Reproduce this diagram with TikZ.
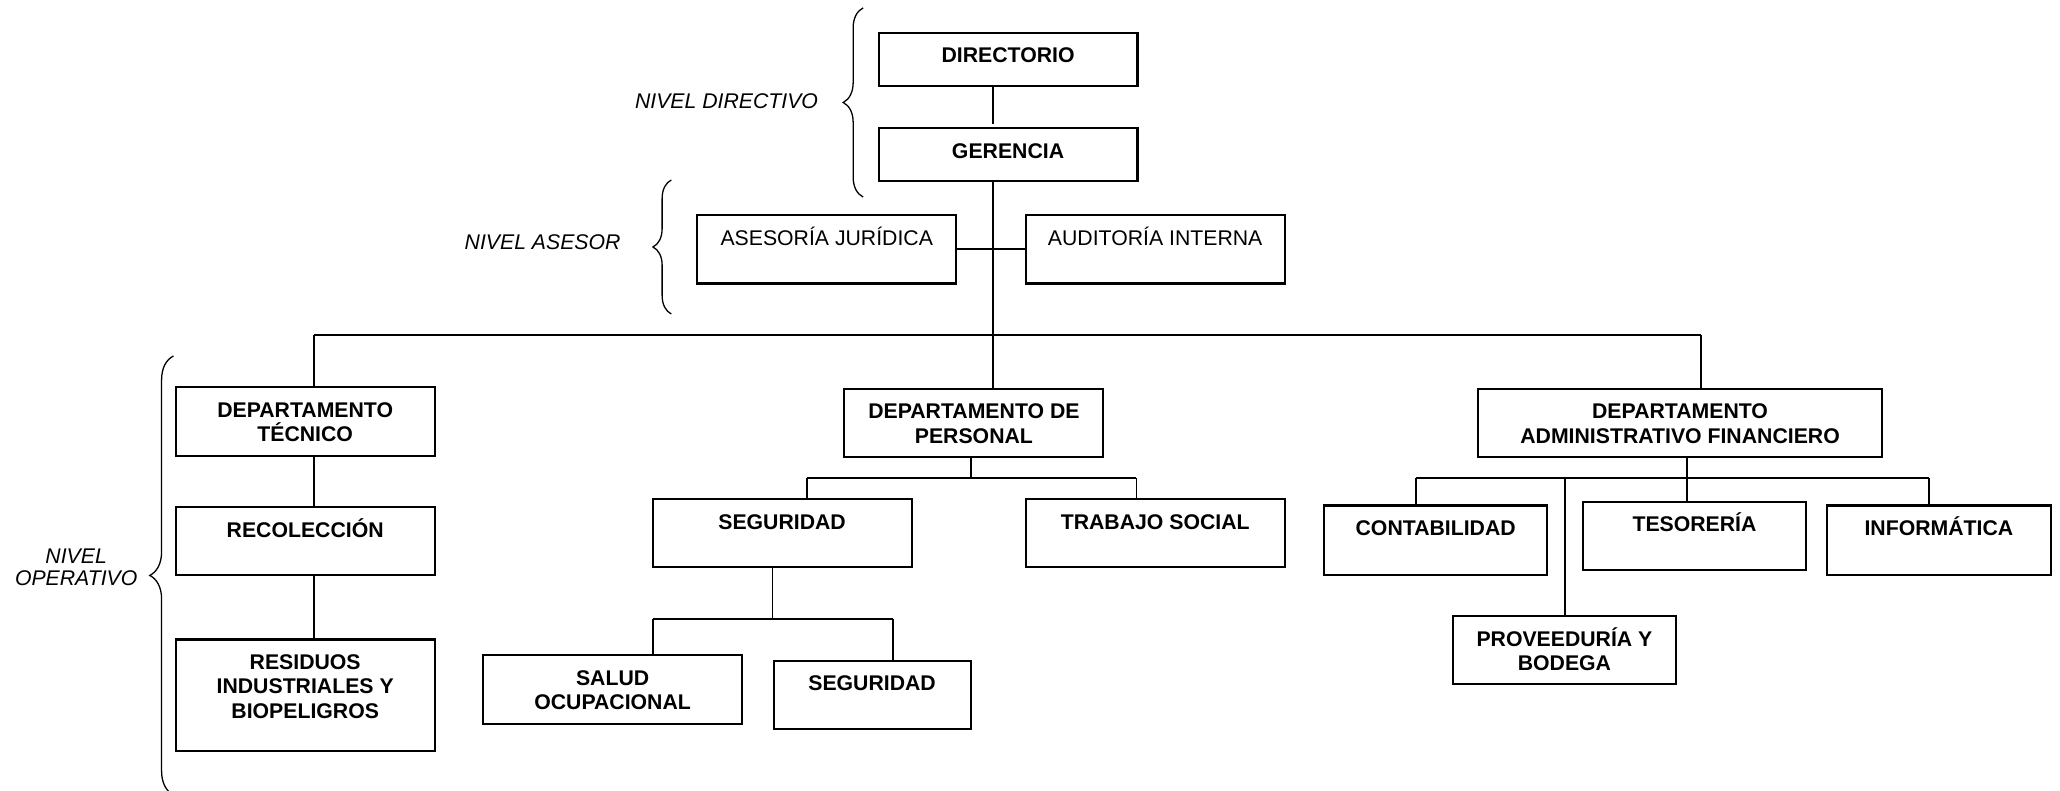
\documentclass[tikz,border=0pt]{standalone}
\usepackage{fontspec}
\setmainfont{Liberation Sans}
\usetikzlibrary{positioning,decorations.pathreplacing}

\begin{document}
\begin{tikzpicture}[x=0.025cm,y=-0.025cm,
  cargo/.style={draw,line width=1.1pt,anchor=north west,inner sep=0pt,
    minimum width=4.925cm,minimum height=1.3cm},
  lbl/.style={anchor=base,inner sep=0pt,align=center,
    font=\bfseries\fontsize{11.5}{13.1}\selectfont},
  boxtext/.style={label={[lbl,yshift=-0.595cm]north:#1}},
  boxtwo/.style={label={[lbl,yshift=-0.595cm-13.1pt]north:#1}},
  boxthree/.style={label={[lbl,yshift=-0.595cm-26.2pt]north:#1}},
  thintext/.style={label={[lbl,yshift=-0.595cm,font=\fontsize{11.5}{13.1}\selectfont]north:#1}},
  conn/.style={line width=1pt},
  nivel/.style={font=\itshape\fontsize{11.5}{12.1}\selectfont,align=center},
  curly/.style={decorate,decoration={brace,amplitude=#1},line width=0.7pt}]
  \useasboundingbox (0,0) rectangle (1568,602);

  %nivel directivo
  \node[cargo,minimum height=1.025cm,boxtext=DIRECTORIO] (dir) at (668,24) {};
  \node[cargo,minimum height=1cm,boxtext=GERENCIA] (ger) at (668,97) {};
  %nivel asesor
  \node[cargo,thintext=ASESORÍA JURÍDICA] (ase) at (530,163) {};
  \node[cargo,thintext=AUDITORÍA INTERNA] (aud) at (780,163) {};
  %departamentos
  \node[cargo,boxtwo={DEPARTAMENTO\\TÉCNICO}] (tec) at (133,294) {};
  \node[cargo,boxtext=RECOLECCIÓN] (rec) at (133,385) {};
  \node[cargo,minimum height=2.125cm,boxthree={RESIDUOS\\INDUSTRIALES Y\\BIOPELIGROS}] (res) at (133,486) {};
  \node[cargo,boxtwo={DEPARTAMENTO DE\\PERSONAL}] (per) at (642,295) {};
  \node[cargo,boxtext=SEGURIDAD] (seg) at (496,379) {};
  \node[cargo,boxtext=TRABAJO SOCIAL] (tra) at (780,379) {};
  \node[cargo,boxtwo={SALUD\\OCUPACIONAL}] (sal) at (367,498) {};
  \node[cargo,minimum width=3.75cm,boxtext=SEGURIDAD] (seg2) at (588,502) {};
  \node[cargo,minimum width=7.7cm,boxtwo={DEPARTAMENTO\\ADMINISTRATIVO FINANCIERO}] (adm) at (1124,295) {};
  \node[cargo,minimum width=4.25cm,minimum height=1.325cm,boxtext=CONTABILIDAD] (con) at (1007,384) {};
  \node[cargo,minimum width=4.25cm,boxtext=TESORERÍA] (tes) at (1204,381) {};
  \node[cargo,minimum width=4.25cm,minimum height=1.325cm,boxtext=INFORMÁTICA] (inf) at (1390,384) {};
  \node[cargo,minimum width=4.25cm,boxtwo={PROVEEDURÍA Y\\BODEGA}] (pro) at (1105,468) {};

  %joints
  \coordinate (t) at (756,255);
  \coordinate (bl) at (239,255);
  \coordinate (br) at (1295,255);
  \coordinate (p) at (739,364);
  \coordinate (pl) at (614,364);
  \coordinate (pr) at (865,364);
  \coordinate (s) at (588,471);
  \coordinate (sl) at (497,471);
  \coordinate (sr) at (680,471);
  \coordinate (a) at (1284,364);
  \coordinate (al) at (1078,364);
  \coordinate (am) at (1191,364);
  \coordinate (ar) at (1468,364);

  %lines
  \draw[conn,shorten >=1.8pt] (dir.south -| t) -- (ger.north -| t);
  \draw[conn] (ger.south -| t) -- (t);
  \draw[conn] (ase.east) -- (aud.west);
  \draw[conn] (bl) -- (br);
  \draw[conn] (bl) -- (tec.north -| bl);
  \draw[conn] (tec.south -| bl) -- (rec.north -| bl);
  \draw[conn] (rec.south -| bl) -- (res.north -| bl);
  \draw[conn] (t) -- (per.north -| t);
  \draw[conn] (per.south -| p) -- (p);
  \draw[conn] (pl) -- (pr);
  \draw[conn] (pl) -- (seg.north -| pl);
  \draw[conn] (pr) -- (tra.north -| pr);
  \draw[conn] (seg.south -| s) -- (s);
  \draw[conn] (sl) -- (sr);
  \draw[conn] (sl) -- (sal.north -| sl);
  \draw[conn] (sr) -- (seg2.north -| sr);
  \draw[conn] (br) -- (adm.north -| br);
  \draw[conn] (adm.south -| a) -- (a);
  \draw[conn] (al) -- (ar);
  \draw[conn] (al) -- (con.north -| al);
  \draw[conn] (am) -- (pro.north -| am);
  \draw[conn] (a) -- (tes.north -| a);
  \draw[conn] (ar) -- (inf.north -| ar);

  %niveles
  \draw[curly=0.38cm] (657,150) -- (657,6);
  \draw[curly=0.35cm] (511,239) -- (511,137);
  \draw[curly=0.45cm] (132,605) -- (132,271);
  \node[nivel] (ndir) at (553,77) {NIVEL DIRECTIVO};
  \node[nivel] (nase) at (413,184) {NIVEL ASESOR};
  \node[nivel] (nope) at (58,432) {NIVEL\\OPERATIVO};
\end{tikzpicture}
\end{document}
